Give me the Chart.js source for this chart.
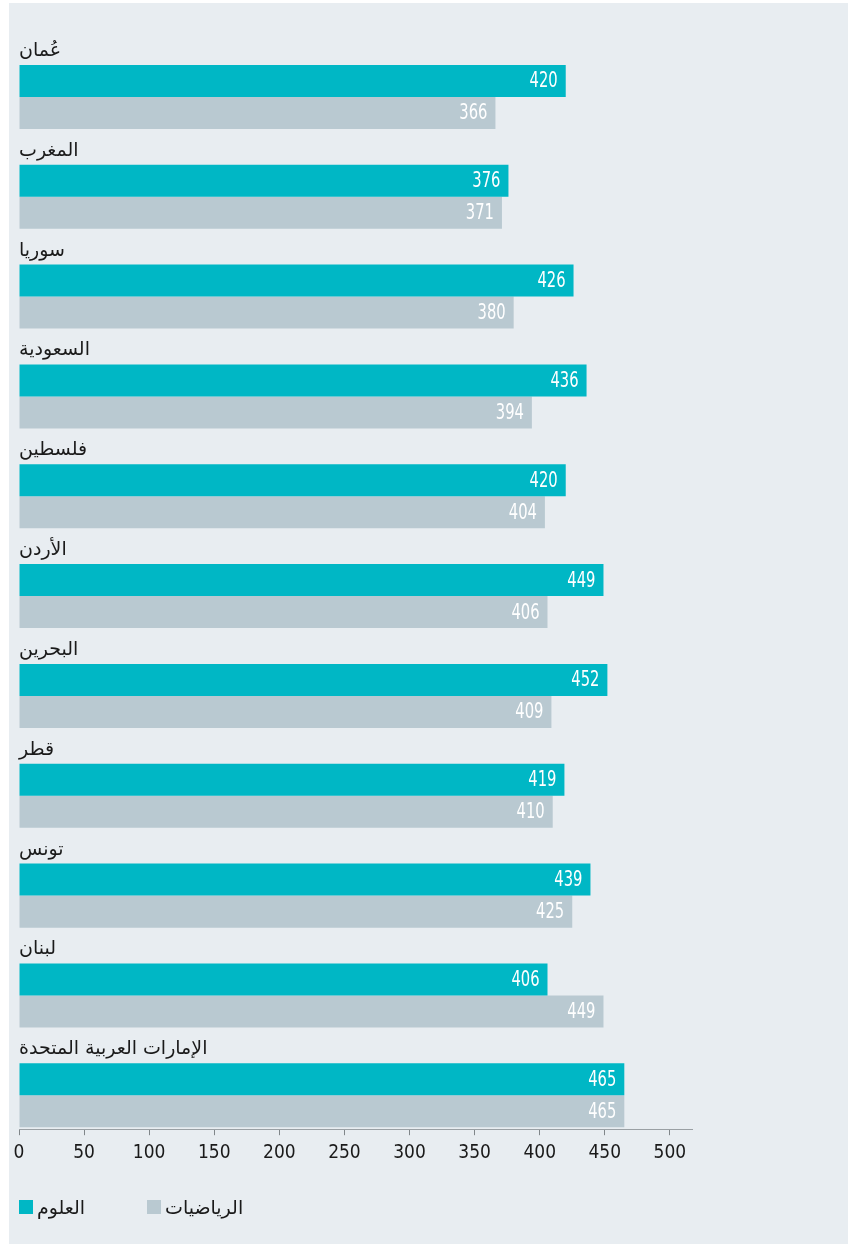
<!DOCTYPE html>
<html>
<head>
<meta charset="utf-8">
<script src="https://cdn.jsdelivr.net/npm/chart.js@4.4.1/dist/chart.umd.min.js"></script>
<style>
  body { margin: 0; background: #ffffff; }
  .panel { position: absolute; left: 9px; top: 3px; width: 839px; height: 1241px; background: #e8edf1; }
  canvas { display: block; }
  .legend-item { position: absolute; top: 1196px; height: 22px; display: flex; align-items: center;
    font: 19px 'DejaVu Sans', sans-serif; color: #1a1a1a; }
  .legend-item i { display: inline-block; width: 14px; height: 14px; margin-right: 4px; }
</style>
</head>
<body>
<div class="panel"><canvas id="myChart" width="839" height="1241"></canvas></div>
<div class="legend-item" style="left:19px"><i class="sw-science"></i><span class="lbl-science"></span></div>
<div class="legend-item" style="left:147px"><i class="sw-maths"></i><span class="lbl-maths"></span></div>
<script>
const countries = ["عُمان", "المغرب", "سوريا", "السعودية", "فلسطين", "الأردن", "البحرين", "قطر", "تونس", "لبنان", "الإمارات العربية المتحدة"];
const science = [420, 376, 426, 436, 420, 449, 452, 419, 439, 406, 465];
const maths = [366, 371, 380, 394, 404, 406, 409, 410, 425, 449, 465];
const seriesNames = ["العلوم", "الرياضيات"];
const xTicks = [0, 50, 100, 150, 200, 250, 300, 350, 400, 450, 500];

const teal = "#00b7c5";
const grey = "#b9c9d1";
const numberFont = "'DejaVu Sans Condensed', 'DejaVu Sans', sans-serif";
const arabicFont = "'DejaVu Sans', sans-serif";

const chartCanvas = document.querySelector("#myChart");

// legend under the axis
document.querySelector(".sw-science").style.backgroundColor = teal;
document.querySelector(".sw-maths").style.backgroundColor = grey;
document.querySelector(".lbl-science").textContent = seriesNames[0];
document.querySelector(".lbl-maths").textContent = seriesNames[1];

// white numbers at the end of each bar
const valueLabels = {
  id: "valueLabels",
  afterDatasetsDraw(chart) {
    const ctx = chart.ctx;
    [1, 2].forEach((dsIndex) => {
      const meta = chart.getDatasetMeta(dsIndex);
      meta.data.forEach((bar, i) => {
        const value = chart.data.datasets[dsIndex].data[i];
        ctx.save();
        ctx.font = "21px " + numberFont;
        ctx.fillStyle = "#ffffff";
        ctx.textAlign = "right";
        ctx.textBaseline = "middle";
        ctx.translate(bar.x - 8, bar.y + 1);
        ctx.scale(0.78, 1);
        ctx.fillText(String(value), 0, 0);
        ctx.restore();
      });
    });
  },
};

new Chart(chartCanvas, {
  type: "bar",
  data: {
    labels: countries,
    datasets: [
      {
        label: "labelRow",
        data: countries.map(() => null),
        backgroundColor: "rgba(0,0,0,0)",
      },
      {
        label: seriesNames[0],
        data: science,
        backgroundColor: teal,
      },
      {
        label: seriesNames[1],
        data: maths,
        backgroundColor: grey,
      },
    ],
  },
  options: {
    indexAxis: "y",
    responsive: false,
    animation: false,
    devicePixelRatio: 1,
    categoryPercentage: 0.962,
    barPercentage: 1,
    layout: {
      padding: { left: 0, right: 156, top: 28, bottom: 74 },
    },
    scales: {
      x: {
        min: 0,
        max: 517,
        afterBuildTicks: (scale) => {
          scale.ticks = xTicks.map((v) => ({ value: v }));
        },
        afterFit: (scale) => {
          scale.paddingLeft = 0;
        },
        grid: {
          drawOnChartArea: false,
          drawTicks: true,
          tickLength: 6,
          color: "#80868a",
        },
        border: { display: true, color: "#9aa0a4", width: 1 },
        ticks: {
          color: "#1a1a1a",
          font: { family: numberFont, size: 19 },
          padding: 6,
          maxRotation: 0,
        },
      },
      y: {
        afterFit: (scale) => {
          scale.width = 10;
        },
        grid: { display: false },
        border: { display: false },
        ticks: {
          mirror: true,
          padding: 0,
          labelOffset: -30,
          color: "#1a1a1a",
          font: { family: arabicFont, size: 19 },
        },
      },
    },
    plugins: {
      tooltip: { enabled: false },
      legend: { display: false },
    },
  },
  plugins: [valueLabels],
});
</script>
</body>
</html>
